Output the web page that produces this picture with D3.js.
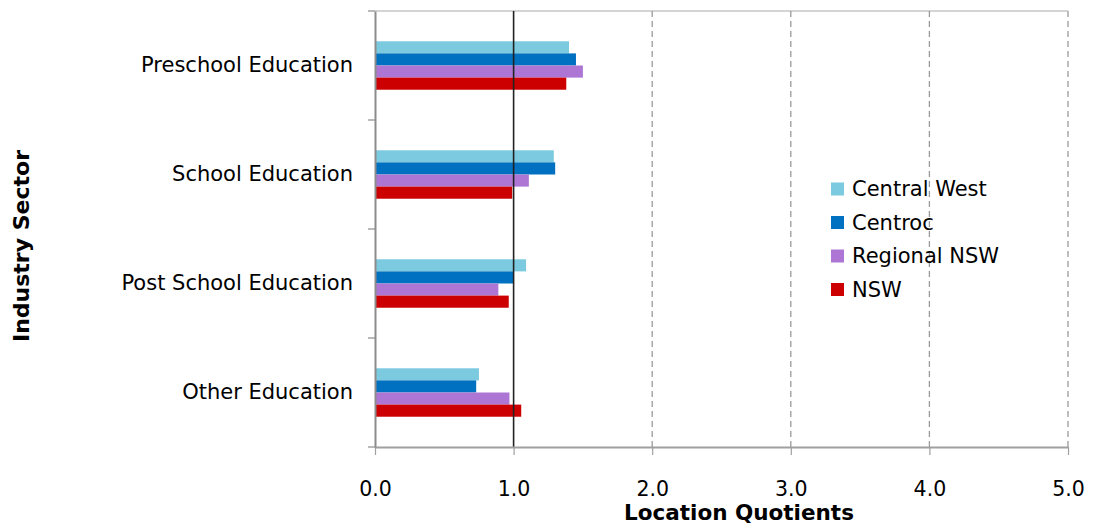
<!DOCTYPE html>
<html>
<head>
<meta charset="utf-8">
<script src="https://cdn.jsdelivr.net/npm/d3@7"></script>
<style>
  html, body { margin: 0; padding: 0; background: #fff; }
  svg { display: block; font-family: "DejaVu Sans", Verdana, sans-serif; }
</style>
</head>
<body>
<svg id="chart" width="1095" height="529"></svg>
<script>
// Location quotients for education sub-sectors
const categories = ["Preschool Education", "School Education", "Post School Education", "Other Education"];
const seriesNames = ["Central West", "Centroc", "Regional NSW", "NSW"];
const centralWest = [1.40, 1.29, 1.09, 0.75];
const centroc     = [1.45, 1.30, 1.00, 0.73];
const regionalNSW = [1.50, 1.11, 0.89, 0.97];
const nsw         = [1.38, 0.99, 0.965, 1.055];
const xTicks = [0, 1, 2, 3, 4, 5];
const colors = ["#7bcadf", "#0070c0", "#ae76d4", "#cc0000"];

const seriesValues = [centralWest, centroc, regionalNSW, nsw];
const rows = categories.map((c, i) => ({
  category: c,
  values: seriesNames.map((s, j) => ({ series: s, value: seriesValues[j][i], color: colors[j] }))
}));

const svg = d3.select("#chart");
const plot = { left: 375, right: 1068, top: 11, bottom: 447 };

const x = d3.scaleLinear().domain([0, 5]).range([plot.left, plot.right]);
const y0 = d3.scaleBand().domain(categories).range([plot.top, plot.bottom]).padding(0);
const y1 = d3.scaleBand().domain(seriesNames).range([0, y0.bandwidth()]).paddingInner(0).paddingOuter(2.5);

// top border of plot area
svg.append("line")
  .attr("x1", plot.left).attr("x2", plot.right)
  .attr("y1", plot.top).attr("y2", plot.top)
  .attr("stroke", "#d4d4d4").attr("stroke-width", 2);

// dashed vertical gridlines
svg.append("g").selectAll("line")
  .data(xTicks.filter(t => t >= 2))
  .join("line")
  .attr("x1", d => x(d)).attr("x2", d => x(d))
  .attr("y1", plot.top).attr("y2", plot.bottom)
  .attr("stroke", d => d === 5 ? "#bdbdbd" : "#9a9a9a")
  .attr("stroke-width", d => d === 5 ? 2 : 1.3)
  .attr("stroke-dasharray", "6,4");

// bars
const groups = svg.append("g").selectAll("g")
  .data(rows)
  .join("g")
  .attr("transform", d => `translate(0,${y0(d.category)})`);

groups.selectAll("rect")
  .data(d => d.values)
  .join("rect")
  .attr("x", x(0))
  .attr("y", d => y1(d.series))
  .attr("width", d => x(d.value) - x(0))
  .attr("height", y1.bandwidth())
  .attr("fill", d => d.color);

// reference line at 1.0
svg.append("line")
  .attr("x1", x(1)).attr("x2", x(1))
  .attr("y1", plot.top).attr("y2", plot.bottom)
  .attr("stroke", "#222").attr("stroke-width", 1.6);

// x axis
const xAxis = d3.axisBottom(x).tickValues(xTicks).tickFormat(d3.format(".1f")).tickSizeInner(8).tickSizeOuter(0).tickPadding(26);
const gx = svg.append("g").attr("transform", `translate(0,${plot.bottom})`).call(xAxis);
gx.select(".domain").attr("stroke", "#a0a0a0").attr("stroke-width", 2);
gx.selectAll(".tick line").attr("stroke", "#a0a0a0").attr("stroke-width", 1.2);
gx.selectAll(".tick text").attr("font-size", 20.5).attr("fill", "#000")
  .attr("font-family", "DejaVu Sans, Verdana, sans-serif");

// y axis
const yAxis = d3.axisLeft(y0).tickSize(0).tickPadding(22);
const gy = svg.append("g").attr("transform", `translate(${plot.left},0)`).call(yAxis);
gy.select(".domain").attr("stroke", "#8c8c8c").attr("stroke-width", 2);
gy.selectAll(".tick text").attr("font-size", 21).attr("fill", "#000")
  .attr("font-family", "DejaVu Sans, Verdana, sans-serif");

// category boundary ticks
const boundaries = categories.map(c => y0(c)).concat([plot.bottom]);
svg.append("g").selectAll("line")
  .data(boundaries)
  .join("line")
  .attr("x1", plot.left - 7).attr("x2", plot.left)
  .attr("y1", d => d).attr("y2", d => d)
  .attr("stroke", "#8c8c8c").attr("stroke-width", 1.2);

// axis titles
svg.append("text")
  .attr("x", 739).attr("y", 520)
  .attr("text-anchor", "middle")
  .attr("font-size", 21.5).attr("font-weight", "bold")
  .text("Location Quotients");

svg.append("text")
  .attr("transform", "translate(29,246) rotate(-90)")
  .attr("text-anchor", "middle")
  .attr("font-size", 22).attr("font-weight", "bold")
  .text("Industry Sector");

// legend
const legend = svg.append("g").attr("transform", "translate(831,189)");
const items = legend.selectAll("g")
  .data(seriesNames)
  .join("g")
  .attr("transform", (d, i) => `translate(0,${i * 33.5})`);
items.append("rect")
  .attr("x", 0).attr("y", -6.5).attr("width", 13).attr("height", 13)
  .attr("fill", (d, i) => colors[i]);
items.append("text")
  .attr("x", 21).attr("y", 0).attr("dy", "0.35em")
  .attr("font-size", 21).attr("fill", "#000")
  .text(d => d);
</script>
</body>
</html>
